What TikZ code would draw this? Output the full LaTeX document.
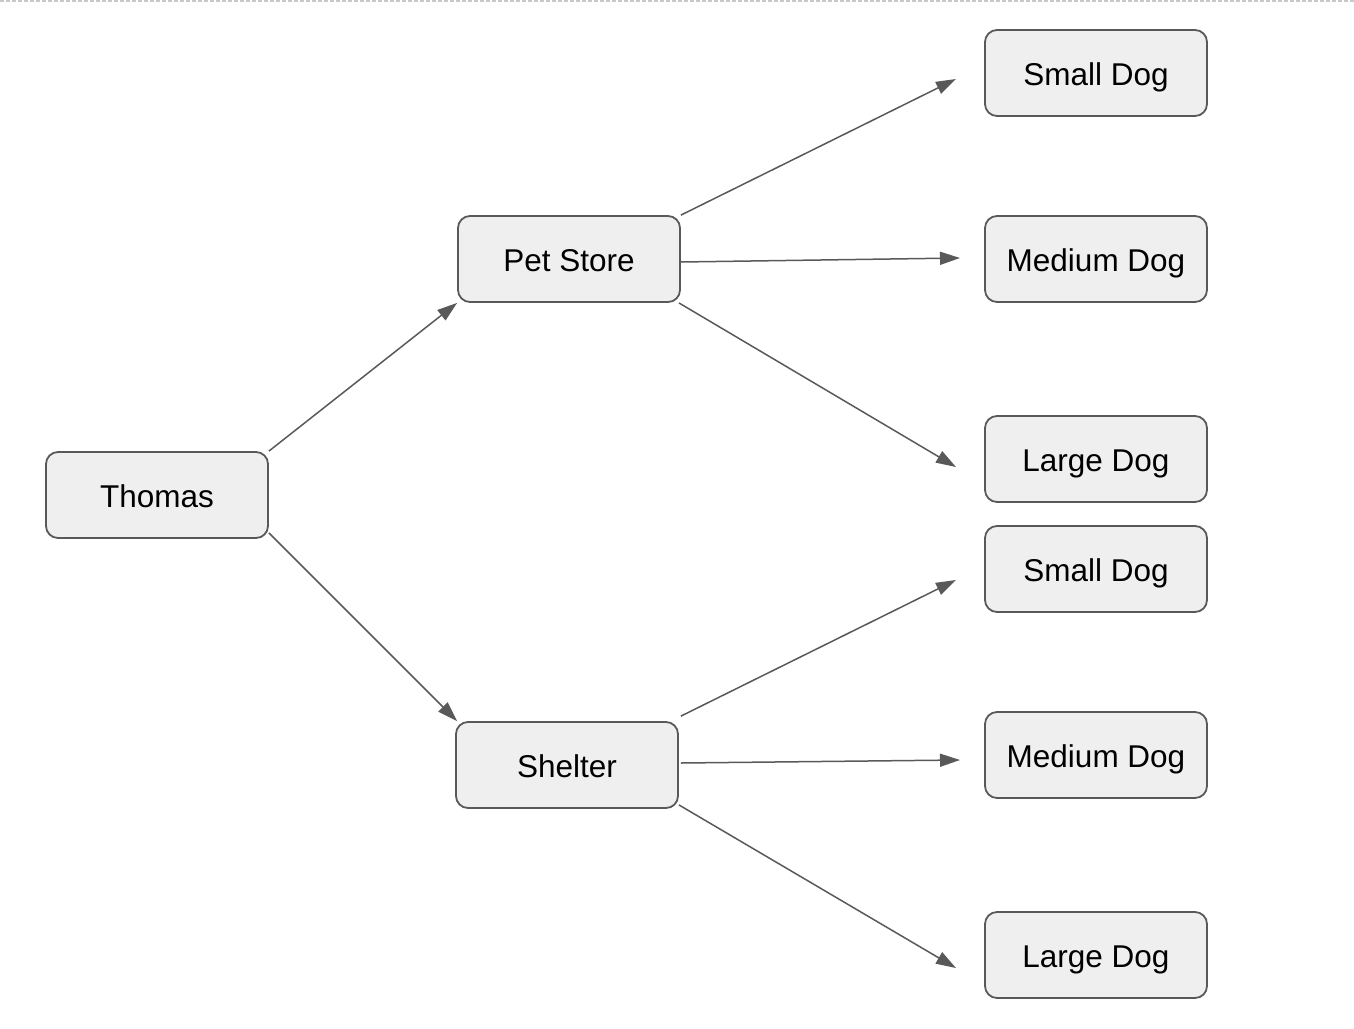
\documentclass[tikz,border=0pt]{standalone}
\usepackage{fontspec}
\setmainfont{Liberation Sans}
\usetikzlibrary{arrows.meta}
\definecolor{boxfill}{HTML}{EFEFEF}
\definecolor{boxline}{HTML}{595959}
\definecolor{topline}{HTML}{C8C8C8}
\begin{document}
\begin{tikzpicture}[x=1pt,y=-1pt,
  box/.style={draw=boxline,line width=1.8pt,fill=boxfill,rounded corners=12pt,
    minimum width=222pt,minimum height=86pt,inner sep=0pt,
    font=\fontsize{31.5}{36}\selectfont,text depth=0pt,text height=25pt},
  link/.style={draw=boxline,line width=1.5pt,-{Triangle[length=20pt,width=13pt]}}]
\useasboundingbox (0,0) rectangle (1354,1028);
\draw[topline,line width=2.5pt,dash pattern=on 4pt off 2pt] (0,1) -- (1354,1);
\node[box] (thomas) at (157,495) {Thomas};
\node[box] (pet) at (569,259) {Pet Store};
\node[box] (shelter) at (567,765) {Shelter};
\node[box] (s1) at (1096,73) {Small Dog};
\node[box] (m1) at (1096,259) {Medium Dog};
\node[box] (l1) at (1096,459) {Large Dog};
\node[box] (s2) at (1096,569) {Small Dog};
\node[box] (m2) at (1096,755) {Medium Dog};
\node[box] (l2) at (1096,955) {Large Dog};
\coordinate (es1) at (956,79);
\coordinate (em1) at (960,258);
\coordinate (el1) at (956,467);
\coordinate (es2) at (956,580);
\coordinate (em2) at (960,760);
\coordinate (el2) at (956,968);
\draw[link] (thomas.north east) -- (pet.south west);
\draw[link] ([yshift=6pt]thomas.south east) -- ([xshift=2pt]shelter.north west);
\draw[link] (pet.north east) -- (es1);
\draw[link] ([yshift=-3pt]pet.east) -- (em1);
\draw[link] ([xshift=-2pt]pet.south east) -- (el1);
\draw[link] ([xshift=2pt,yshift=5pt]shelter.north east) -- (es2);
\draw[link] ([xshift=2pt,yshift=2pt]shelter.east) -- (em2);
\draw[link] ([yshift=4pt]shelter.south east) -- (el2);
\end{tikzpicture}
\end{document}
